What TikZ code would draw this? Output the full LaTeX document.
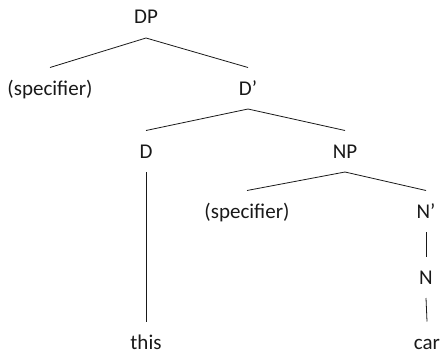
\documentclass[tikz,border=0pt]{standalone}
\usepackage{fontspec}
\setmainfont{Carlito}
\begin{document}
\begin{tikzpicture}[x=1pt,y=-1pt,
  lbl/.style={font=\fontsize{21}{25}\selectfont, text=black!90, inner sep=0pt,
    text height=13.5pt, text depth=0pt, outer xsep=0pt, outer ysep=14pt, anchor=base},
  edge/.style={draw=black!90, line width=0.8pt}]
\useasboundingbox (0,0) rectangle (441,353);
\node[lbl] (dp) at (146,24) {DP};
\node[lbl] (spec1) at (50,95) {(specifier)};
\node[lbl] (dbar) at (248,95) {D’};
\node[lbl] (d) at (146,158) {D};
\node[lbl] (np) at (345,158) {NP};
\node[lbl] (spec2) at (247,218) {(specifier)};
\node[lbl] (nbar) at (426,218) {N’};
\node[lbl] (n) at (426,284) {N};
\node[lbl] (this) at (146,349) {this};
\node[lbl] (car) at (427,349) {car};
\draw[edge] (dp.south) -- (spec1.north);
\draw[edge] (dp.south) -- (dbar.north);
\draw[edge] (dbar.south) -- (d.north);
\draw[edge] (dbar.south) -- (np.north);
\draw[edge] (d.south) -- (this.north);
\draw[edge] (np.south) -- (spec2.north);
\draw[edge] (np.south) -- (nbar.north);
\draw[edge] (nbar.south) -- (n.north);
\draw[edge] (n.south) -- (car.north);
\end{tikzpicture}
\end{document}
